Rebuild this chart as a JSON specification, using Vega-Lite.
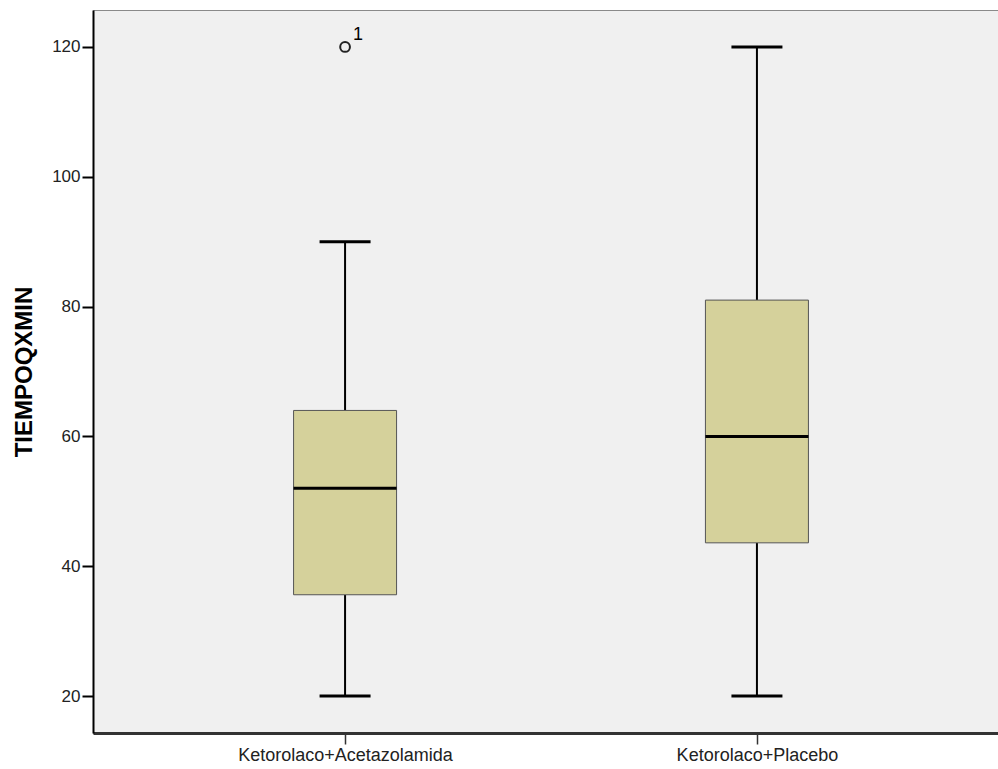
{
  "$schema": "https://vega.github.io/schema/vega-lite/v6.json",
  "autosize": {"type": "none"},
  "padding": {"left": 93, "top": 10, "right": 0, "bottom": 36},
  "width": 916,
  "height": 723,
  "background": "white",
  "config": {
    "font": "Liberation Sans",
    "view": {"fill": "#f0f0f0", "stroke": "#8a8a8a", "strokeWidth": 1}
  },
  "datasets": {
    "boxes": [
      {"group": "Ketorolaco+Acetazolamida", "lower": 20, "q1": 35.6, "median": 52, "q3": 64, "upper": 90},
      {"group": "Ketorolaco+Placebo", "lower": 20, "q1": 43.6, "median": 60, "q3": 81, "upper": 120}
    ],
    "outliers": [
      {"group": "Ketorolaco+Acetazolamida", "value": 120, "label": "1"}
    ]
  },
  "encoding": {
    "x": {
      "field": "group", "type": "nominal",
      "scale": {"type": "point", "padding": 0.612, "domain": ["Ketorolaco+Acetazolamida", "Ketorolaco+Placebo"]},
      "axis": {"title": null, "labelAngle": 0, "labelFontSize": 18, "labelLimit": 0, "labelColor": "#222", "domainColor": "#333", "domainWidth": 3, "tickColor": "#333", "tickSize": 11, "tickWidth": 1.5, "labelPadding": 2}
    }
  },
  "layer": [
    {
      "data": {"name": "boxes"},
      "mark": {"type": "rule", "color": "#000", "strokeWidth": 2},
      "encoding": {
        "y": {"field": "lower", "type": "quantitative",
          "scale": {"domain": [14.3, 125.7], "nice": false, "zero": false},
          "axis": {"title": "TIEMPOQXMIN", "titleFontSize": 24, "titleFontWeight": "bold", "titleColor": "#000", "titlePadding": 15, "values": [20, 40, 60, 80, 100, 120], "grid": false, "labelFontSize": 17, "labelColor": "#222", "domainColor": "#000", "domainWidth": 2, "tickColor": "#000", "tickSize": 11, "tickWidth": 2, "labelPadding": 2}},
        "y2": {"field": "q1"}
      }
    },
    {
      "data": {"name": "boxes"},
      "mark": {"type": "rule", "color": "#000", "strokeWidth": 2},
      "encoding": {
        "y": {"field": "q3", "type": "quantitative"},
        "y2": {"field": "upper"}
      }
    },
    {
      "data": {"name": "boxes"},
      "mark": {"type": "tick", "color": "#000", "size": 51, "thickness": 3, "orient": "horizontal", "opacity": 1},
      "encoding": {"y": {"field": "lower", "type": "quantitative"}}
    },
    {
      "data": {"name": "boxes"},
      "mark": {"type": "tick", "color": "#000", "size": 51, "thickness": 3, "orient": "horizontal", "opacity": 1},
      "encoding": {"y": {"field": "upper", "type": "quantitative"}}
    },
    {
      "data": {"name": "boxes"},
      "mark": {"type": "bar", "size": 103, "fill": "#d5d19b", "stroke": "#555555", "strokeWidth": 1},
      "encoding": {
        "y": {"field": "q1", "type": "quantitative"},
        "y2": {"field": "q3"}
      }
    },
    {
      "data": {"name": "boxes"},
      "mark": {"type": "tick", "color": "#000", "size": 103, "thickness": 3, "orient": "horizontal", "opacity": 1},
      "encoding": {"y": {"field": "median", "type": "quantitative"}}
    },
    {
      "data": {"name": "outliers"},
      "mark": {"type": "point", "shape": "circle", "filled": false, "size": 95, "stroke": "#222", "strokeWidth": 2, "opacity": 1},
      "encoding": {"y": {"field": "value", "type": "quantitative"}}
    },
    {
      "data": {"name": "outliers"},
      "mark": {"type": "text", "dx": 8, "dy": -12, "fontSize": 18, "align": "left", "color": "#000"},
      "encoding": {
        "y": {"field": "value", "type": "quantitative"},
        "text": {"field": "label"}
      }
    }
  ]
}
